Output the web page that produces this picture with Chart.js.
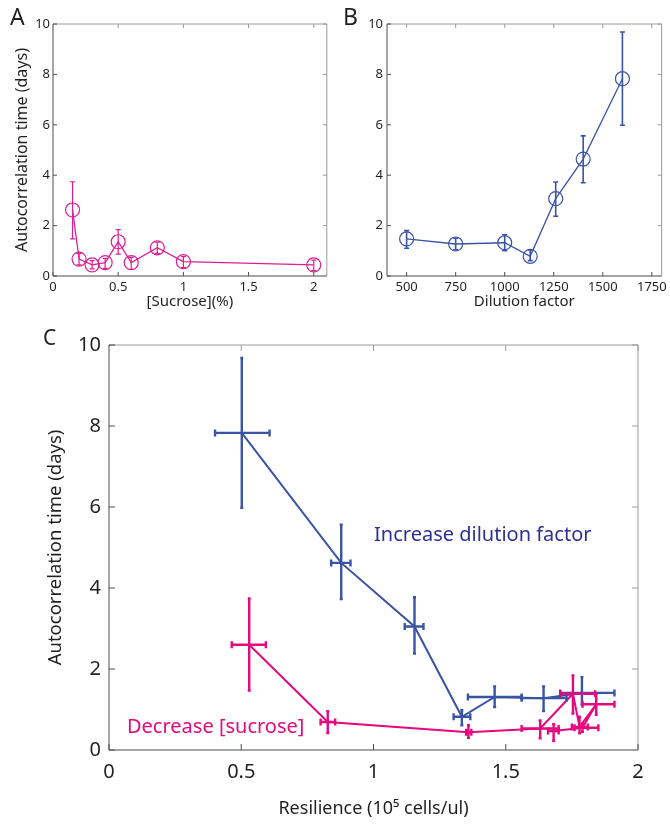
<!DOCTYPE html>
<html>
<head>
<meta charset="utf-8">
<script src="https://cdn.jsdelivr.net/npm/chart.js@4.4.1/dist/chart.umd.min.js"></script>
<style>
  body { margin: 0; background: #fff; width: 670px; height: 826px; position: relative; overflow: hidden; font-family: 'Noto Sans', sans-serif; }
  .pane { position: absolute; }
  .letter { position: absolute; color: #231f20; line-height: 1; }
</style>
</head>
<body>
<div class="pane" style="left:0;top:0"><canvas id="chartA" width="335" height="311"></canvas></div>
<div class="pane" style="left:335px;top:0"><canvas id="chartB" width="335" height="311"></canvas></div>
<div class="pane" style="left:0;top:311px"><canvas id="chartC" width="670" height="515"></canvas></div>
<div class="letter" style="left:10px;top:5px;font-size:23px">A</div>
<div class="letter" style="left:343px;top:5px;font-size:23px">B</div>
<div class="letter" style="left:43px;top:327px;font-size:21px">C</div>
<script>
// ---- panel A: autocorrelation vs sucrose ----
const sucrose = [0.15, 0.2, 0.3, 0.4, 0.5, 0.6, 0.8, 1, 2];
const sucroseTau = [2.62, 0.67, 0.44, 0.53, 1.36, 0.53, 1.12, 0.57, 0.44];
const sucroseTauLo = [1.47, 0.44, 0.28, 0.30, 0.87, 0.26, 0.90, 0.33, 0.21];
const sucroseTauHi = [3.74, 0.90, 0.61, 0.70, 1.84, 0.74, 1.34, 0.77, 0.63];
const ticksAx = [0, 0.5, 1, 1.5, 2];

// ---- panel B: autocorrelation vs dilution factor ----
const dilution = [500, 750, 1000, 1130, 1260, 1400, 1600];
const dilutionTau = [1.47, 1.27, 1.32, 0.78, 3.07, 4.64, 7.83];
const dilutionTauLo = [1.10, 1.04, 1.00, 0.61, 2.37, 3.70, 5.98];
const dilutionTauHi = [1.80, 1.50, 1.63, 1.03, 3.73, 5.56, 9.68];
const ticksBx = [500, 750, 1000, 1250, 1500, 1750];

// ---- panel C: autocorrelation vs resilience ----
const resDil = [0.502, 0.878, 1.155, 1.334, 1.458, 1.643, 1.788];
const resDilLo = [0.401, 0.840, 1.118, 1.303, 1.357, 1.560, 1.706];
const resDilHi = [0.607, 0.913, 1.189, 1.366, 1.560, 1.730, 1.911];
const tauDil = [7.83, 4.62, 3.05, 0.82, 1.31, 1.28, 1.41];
const tauDilLo = [5.98, 3.73, 2.38, 0.61, 1.06, 0.96, 1.12];
const tauDilHi = [9.68, 5.56, 3.77, 0.98, 1.57, 1.57, 1.80];

const resSuc = [0.530, 0.827, 1.359, 1.630, 1.754, 1.779, 1.842, 1.790, 1.681];
const resSucLo = [0.464, 0.800, 1.350, 1.560, 1.706, 1.750, 1.790, 1.760, 1.660];
const resSucHi = [0.593, 0.855, 1.370, 1.700, 1.838, 1.810, 1.911, 1.850, 1.700];
const tauSuc = [2.60, 0.69, 0.44, 0.53, 1.39, 0.57, 1.13, 0.55, 0.47];
const tauSucLo = [1.47, 0.42, 0.30, 0.29, 0.90, 0.41, 0.87, 0.45, 0.23];
const tauSucHi = [3.74, 0.96, 0.61, 0.73, 1.84, 0.82, 1.39, 0.65, 0.64];

const ticksY = [0, 2, 4, 6, 8, 10];
const ticksCx = [0, 0.5, 1, 1.5, 2];

const PINK_A = '#dd1f92', BLUE = '#3a54a4', PINK = '#e5087f', NAVY = '#2e3192', INK = '#231f20';

Chart.defaults.font.family = "'Noto Sans', sans-serif";
Chart.defaults.color = INK;
Chart.defaults.animation = false;

const pts = (xs, ys) => xs.map((x, i) => ({ x, y: ys[i] }));
const fixW = w => s => { s.width = w; };
const fixH = h => s => { s.height = h; };
const setTicks = arr => s => { s.ticks = arr.map(value => ({ value })); };

// error bars drawn through the chart scales
const errorBars = {
  id: 'errorBars',
  afterDatasetsDraw(chart) {
    const { ctx, scales: { x, y } } = chart;
    chart.data.datasets.forEach(ds => {
      const e = ds.errorBars;
      if (!e) return;
      ctx.save();
      ctx.strokeStyle = ds.borderColor;
      ctx.lineWidth = e.width;
      ctx.lineCap = 'butt';
      ds.data.forEach((p, i) => {
        const px = x.getPixelForValue(p.x), py = y.getPixelForValue(p.y);
        ctx.beginPath();
        if (e.yLo) {
          const a = y.getPixelForValue(e.yLo[i]), b = y.getPixelForValue(e.yHi[i]);
          ctx.moveTo(px, a); ctx.lineTo(px, b);
          ctx.moveTo(px - e.capY, a); ctx.lineTo(px + e.capY, a);
          ctx.moveTo(px - e.capY, b); ctx.lineTo(px + e.capY, b);
        }
        if (e.xLo) {
          const a = x.getPixelForValue(e.xLo[i]), b = x.getPixelForValue(e.xHi[i]);
          ctx.moveTo(a, py); ctx.lineTo(b, py);
          ctx.moveTo(a, py - e.capX); ctx.lineTo(a, py + e.capX);
          ctx.moveTo(b, py - e.capX); ctx.lineTo(b, py + e.capX);
        }
        ctx.stroke();
      });
      ctx.restore();
    });
  }
};

// matlab-like box with inward ticks on all four sides
const matlabBox = {
  id: 'matlabBox',
  beforeDatasetsDraw(chart, args, opts) {
    const { ctx, chartArea: a, scales: { x, y } } = chart;
    const len = opts.tickLen || 4;
    ctx.save();
    ctx.lineWidth = opts.lineWidth || 1;
    const edge = (c, x0, y0, x1, y1) => { ctx.strokeStyle = c; ctx.beginPath(); ctx.moveTo(x0, y0); ctx.lineTo(x1, y1); ctx.stroke(); };
    edge(opts.light, a.left, a.top, a.right, a.top);
    edge(opts.light, a.right, a.top, a.right, a.bottom);
    edge(opts.dark, a.left, a.bottom, a.right, a.bottom);
    edge(opts.dark, a.left, a.top, a.left, a.bottom);
    x.ticks.forEach(t => {
      const px = x.getPixelForValue(t.value);
      edge(opts.dark, px, a.bottom, px, a.bottom - len);
      edge(opts.light, px, a.top, px, a.top + len);
    });
    y.ticks.forEach(t => {
      const py = y.getPixelForValue(t.value);
      edge(opts.dark, a.left, py, a.left + len, py);
      edge(opts.light, a.right, py, a.right - len, py);
    });
    ctx.restore();
  }
};

// text labels placed in data coordinates
const notes = {
  id: 'notes',
  afterDraw(chart, args, opts) {
    if (!opts.items) return;
    const { ctx, scales: { x, y } } = chart;
    ctx.save();
    opts.items.forEach(n => {
      ctx.font = n.font;
      ctx.fillStyle = n.color;
      ctx.textAlign = 'left';
      ctx.textBaseline = 'middle';
      ctx.fillText(n.text, x.getPixelForValue(n.x), y.getPixelForValue(n.y));
    });
    ctx.restore();
  }
};

function axis(o) {
  return {
    type: 'linear', min: o.min, max: o.max,
    grid: { display: false, drawTicks: false },
    border: { display: false },
    afterBuildTicks: setTicks(o.ticks),
    afterFit: o.w ? fixW(o.w) : fixH(o.h),
    ticks: { padding: o.pad, font: { size: o.size }, color: INK, maxRotation: 0, autoSkip: false, callback: v => String(v) },
    title: o.title ? { display: true, text: o.title, font: { size: o.tsize }, color: INK, padding: { top: 0, bottom: o.tpad || 0 } } : { display: false },
  };
}

const boxOpts = (len) => ({ tickLen: len, dark: '#4d4d4d', light: '#9a9a9a', lineWidth: 1 });

new Chart(document.getElementById('chartA'), {
  type: 'scatter',
  data: {
    datasets: [{
      data: pts(sucrose, sucroseTau), showLine: true,
      borderColor: PINK_A, borderWidth: 1.3,
      pointRadius: 7, pointBorderWidth: 1.2, pointBackgroundColor: 'transparent', pointBorderColor: PINK_A,
      errorBars: { yLo: sucroseTauLo, yHi: sucroseTauHi, capY: 2.5, width: 1.2 },
    }],
  },
  options: {
    responsive: false,
    layout: { padding: { left: 13, top: 24, right: 6, bottom: 0 } },
    plugins: { legend: { display: false }, tooltip: { enabled: false }, matlabBox: boxOpts(4) },
    scales: {
      x: axis({ min: 0, max: 2.1, ticks: ticksAx, h: 35, pad: 3, size: 13, title: '[Sucrose](%)', tsize: 15 }),
      y: axis({ min: 0, max: 10, ticks: ticksY, w: 40, pad: 3, size: 13, title: 'Autocorrelation time (days)', tsize: 16 }),
    },
  },
  plugins: [matlabBox, errorBars],
});

new Chart(document.getElementById('chartB'), {
  type: 'scatter',
  data: {
    datasets: [{
      data: pts(dilution, dilutionTau), showLine: true,
      borderColor: BLUE, borderWidth: 1.3,
      pointRadius: 7, pointBorderWidth: 1.2, pointBackgroundColor: 'transparent', pointBorderColor: BLUE,
      errorBars: { yLo: dilutionTauLo, yHi: dilutionTauHi, capY: 2.5, width: 1.6 },
    }],
  },
  options: {
    responsive: false,
    layout: { padding: { left: 0, top: 24, right: 8, bottom: 0 } },
    plugins: { legend: { display: false }, tooltip: { enabled: false }, matlabBox: boxOpts(4) },
    scales: {
      x: axis({ min: 400, max: 1800, ticks: ticksBx, h: 35, pad: 3, size: 13, title: 'Dilution factor', tsize: 15 }),
      y: axis({ min: 0, max: 10, ticks: ticksY, w: 52, pad: 4, size: 13 }),
    },
  },
  plugins: [matlabBox, errorBars],
});

new Chart(document.getElementById('chartC'), {
  type: 'scatter',
  data: {
    datasets: [
      {
        data: pts(resDil, tauDil), showLine: true,
        borderColor: BLUE, borderWidth: 2, pointRadius: 0,
        errorBars: { yLo: tauDilLo, yHi: tauDilHi, xLo: resDilLo, xHi: resDilHi, capY: 1.5, capX: 3.5, width: 2.4 },
      },
      {
        data: pts(resSuc, tauSuc), showLine: true,
        borderColor: PINK, borderWidth: 2, pointRadius: 0,
        errorBars: { yLo: tauSucLo, yHi: tauSucHi, xLo: resSucLo, xHi: resSucHi, capY: 1.5, capX: 3.5, width: 2.4 },
      },
    ],
  },
  options: {
    responsive: false,
    layout: { padding: { left: 45, top: 34, right: 32, bottom: 0 } },
    plugins: {
      legend: { display: false }, tooltip: { enabled: false },
      matlabBox: boxOpts(6),
      notes: {
        items: [
          { text: 'Increase dilution factor', x: 1.002, y: 5.31, color: NAVY, font: "20px 'Noto Sans', sans-serif" },
          { text: 'Decrease [sucrose]', x: 0.068, y: 0.57, color: PINK, font: "20px 'Noto Sans', sans-serif" },
        ],
      },
    },
    scales: {
      x: axis({ min: 0, max: 2, ticks: ticksCx, h: 76, pad: 10, size: 20, title: 'Resilience (10\u2075 cells/ul)', tsize: 18, tpad: 6 }),
      y: axis({ min: 0, max: 10, ticks: ticksY, w: 64, pad: 8, size: 20, title: 'Autocorrelation time (days)', tsize: 18.5 }),
    },
  },
  plugins: [matlabBox, errorBars, notes],
});
</script>
</body>
</html>
